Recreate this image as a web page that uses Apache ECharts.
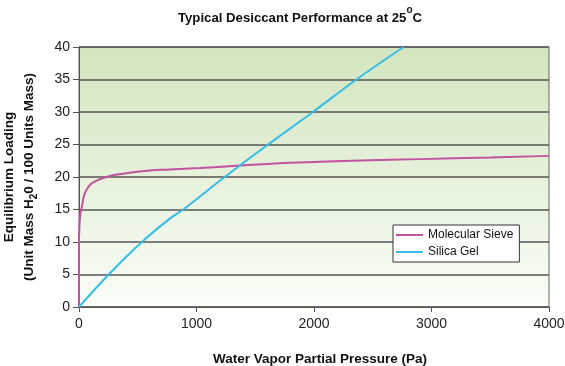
<!DOCTYPE html>
<html><head><meta charset="utf-8">
<script src="https://cdn.jsdelivr.net/npm/echarts@6/dist/echarts.min.js"></script>
<style>html,body{margin:0;padding:0;background:#fff}#c{width:565px;height:366px}</style>
</head><body><div id="c"></div>
<script>
var seriesNames = ['Molecular Sieve', 'Silica Gel'];
var molecularSieve = [[0,0],[0,10.3],[3,12],[10,14],[26,15.6],[48,17.4],[85,18.6],[134,19.3],[233,20.0],[374,20.5],[602,21.0],[772,21.15],[1029,21.4],[1600,22.0],[2000,22.3],[2400,22.55],[2900,22.75],[3500,23.0],[4000,23.25]];
var silicaGel = [[0,0],[253,5],[535,10],[773,13.6],[887,15],[1240,20],[1609,25],[1991,30],[2361,35],[2763,40]];
var xTicks = [0,1000,2000,3000,4000];
var yTicks = [0,5,10,15,20,25,30,35,40];

var font = 'Liberation Sans';
var chart = echarts.init(document.getElementById('c'), null, {renderer:'canvas'});
chart.setOption({
  animation: false,
  title: {
    text: '{t|Typical Desiccant Performance at 25}{s|o}{t|C}',
    left: 295, top: 0, textAlign: 'center',
    textStyle: {
      rich: {
        t: {fontFamily: font, fontWeight: 'bold', fontSize: 13.2, color: '#111', verticalAlign: 'bottom', lineHeight: 20},
        s: {fontFamily: font, fontWeight: 'bold', fontSize: 10, color: '#111', verticalAlign: 'top', lineHeight: 20, padding:[0,0,9,0]}
      }
    }
  },
  legend: {
    orient: 'vertical', left: 393, top: 225,
    data: seriesNames,
    icon: 'rect', itemWidth: 27, itemHeight: 2, itemGap: 3,
    padding: [3, 6, 3, 3],
    backgroundColor: '#fff', borderColor: '#333', borderWidth: 1,
    textStyle: {fontFamily: font, fontSize: 12, color: '#111', lineHeight: 14}
  },
  grid: {
    left: 79, right: 16, top: 47, bottom: 59, show: true, containLabel: false, outerBoundsMode: 'none',
    borderColor: '#666', borderWidth: 1,
    backgroundColor: new echarts.graphic.LinearGradient(0,0,0,1,[{offset:0,color:'#d3e5bf'},{offset:1,color:'#fbfdf9'}])
  },
  xAxis: {
    type: 'value', min: xTicks[0], max: xTicks[xTicks.length-1], interval: 1000,
    name: 'Water Vapor Partial Pressure (Pa)', nameLocation: 'middle', nameGap: 45,
    nameTextStyle: {fontFamily: font, fontWeight: 'bold', fontSize: 13.5, color: '#111', padding: [0,0,0,12]},
    axisLine: {show: true, lineStyle: {color: '#555', width: 1}},
    axisTick: {show: true, length: 5, lineStyle: {color: '#555'}},
    axisLabel: {fontFamily: font, fontSize: 14, color: '#222', margin: 10, formatter: function(v){return String(v);}},
    splitLine: {show: false}
  },
  yAxis: {
    type: 'value', min: yTicks[0], max: yTicks[yTicks.length-1], interval: 5,
    name: '{b|Equilibrium Loading}\n{b|(Unit Mass H}{sub|2}{b|0 / 100 Units Mass)}',
    nameLocation: 'middle', nameGap: 40,
    nameTextStyle: {
      rich: {
        b: {fontFamily: font, fontWeight: 'bold', fontSize: 13.5, color: '#111', lineHeight: 20},
        sub: {fontFamily: font, fontWeight: 'bold', fontSize: 10, color: '#111', lineHeight: 20, verticalAlign: 'bottom'}
      }
    },
    axisLine: {show: true, lineStyle: {color: '#555', width: 1}},
    axisTick: {show: true, length: 6, lineStyle: {color: '#555'}},
    axisLabel: {fontFamily: font, fontSize: 14, color: '#222', margin: 9},
    splitLine: {show: true, lineStyle: {color: '#555', width: 1.5}}
  },
  series: [
    {name: seriesNames[0], type: 'line', data: molecularSieve, showSymbol: false, smooth: 0.5,
     lineStyle: {color: '#c2539f', width: 2}, itemStyle: {color: '#c2539f'}},
    {name: seriesNames[1], type: 'line', data: silicaGel, showSymbol: false, smooth: 0.4,
     lineStyle: {color: '#35bde9', width: 2}, itemStyle: {color: '#35bde9'}}
  ]
});
</script></body></html>
